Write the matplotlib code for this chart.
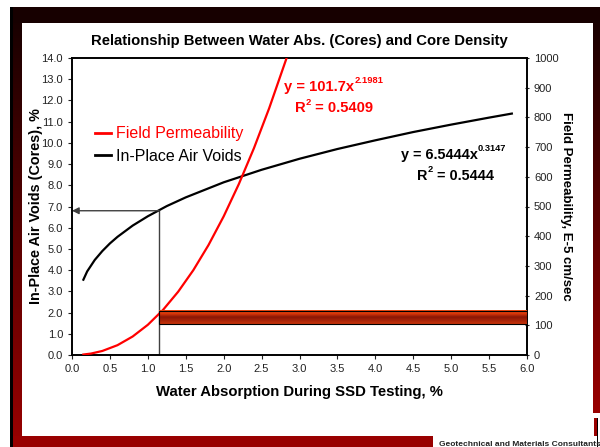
import numpy as np
import matplotlib.pyplot as plt
from matplotlib.colors import LinearSegmentedColormap

plt.rcParams['font.family'] = ['Liberation Sans', 'DejaVu Sans']

# ── data ─────────────────────────────────────────────────────────────────────
voids_x = [0.15, 0.2, 0.3, 0.4, 0.5, 0.6, 0.8, 1.0, 1.25, 1.5, 2.0, 2.5,
           3.0, 3.5, 4.0, 4.5, 5.0, 5.5, 5.8]
voids_y = [3.55, 3.94, 4.48, 4.90, 5.26, 5.57, 6.10, 6.54, 7.02, 7.43, 8.14,
           8.73, 9.25, 9.71, 10.12, 10.51, 10.86, 11.19, 11.38]

perm_x = [0.15, 0.25, 0.4, 0.6, 0.8, 1.0, 1.2, 1.4, 1.6, 1.8, 2.0, 2.2,
          2.4, 2.6, 2.83]
perm_y = [1.6, 4.8, 13.6, 33.1, 62.3, 101.7, 151.8, 213.1, 285.7, 370.2,
          466.7, 575.5, 696.8, 830.8, 1000]

guide_x = 1.15        # water absorption read-off
guide_y = 6.8         # resulting air voids
band_x = [1.15, 6.0]  # permeability band
band_y = [104, 148]

xticks = np.arange(0, 6.01, 0.5)
yticks = np.arange(0, 14.01, 1.0)
y2ticks = np.arange(0, 1001, 100)

W, H = 600, 447
fig = plt.figure(figsize=(W / 100, H / 100), dpi=100)

# ── frame around the slide ───────────────────────────────────────────────────
bg = fig.add_axes([0, 0, 1, 1])
bg.set_xlim(0, W); bg.set_ylim(H, 0); bg.axis('off')
grad = LinearSegmentedColormap.from_list('fr', ['#150000', '#990000'])
g = np.linspace(0, 1, 200).reshape(-1, 1)
bg.add_patch(plt.Rectangle((10, 7), 590, 16, color='#170000', lw=0))
bg.imshow(g, cmap=grad, extent=(13, 22, 447, 7), aspect='auto')
bg.add_patch(plt.Rectangle((10, 7), 3, 440, color='black', lw=0))
bg.imshow(g, cmap=grad, extent=(593, 600, 413, 7), aspect='auto')
bg.add_patch(plt.Rectangle((13, 436), 420, 11, color='#990000', lw=0))
bg.add_patch(plt.Rectangle((594, 418), 3, 18, color='#990000', lw=0))
bg.add_patch(plt.Rectangle((597, 418), 1, 29, color='black', lw=0))
bg.text(439, 440.5, 'Geotechnical and Materials Consultants', fontsize=6,
        fontweight='bold', va='top', ha='left', color='#222222')
bg.set_xlim(0, W); bg.set_ylim(H, 0)

# ── main chart ───────────────────────────────────────────────────────────────
ax = fig.add_axes([72 / W, 1 - 355 / H, 455 / W, 297 / H])
ax2 = ax.twinx()

ax.plot(voids_x, voids_y, color='black', lw=1.6, zorder=3)
ax2.plot(perm_x, perm_y, color='red', lw=1.6, zorder=3)

ax.plot([guide_x, guide_x], [0, guide_y], color='#404040', lw=1, zorder=2)
ax.annotate('', xy=(0.0, guide_y), xytext=(guide_x, guide_y),
            arrowprops=dict(arrowstyle='-|>', color='#404040', lw=1,
                            mutation_scale=10, shrinkA=0, shrinkB=0))

bmap = LinearSegmentedColormap.from_list(
    'band', ['#f04a12', '#d8380a', '#8a1605', '#a82408', '#c8340a'])
ax2.imshow(np.linspace(0, 1, 50).reshape(-1, 1), cmap=bmap, aspect='auto',
           extent=(band_x[0], band_x[1], band_y[0], band_y[1]), zorder=4)
ax2.add_patch(plt.Rectangle((band_x[0], band_y[0]), band_x[1] - band_x[0],
                            band_y[1] - band_y[0], fill=False, ec='black',
                            lw=0.8, zorder=5))

ax.set_xlim(0, 6)
ax.set_ylim(0, 14)
ax2.set_ylim(0, 1000)
ax.set_xticks(xticks)
ax.set_xticklabels([f'{v:.1f}' for v in xticks])
ax.set_yticks(yticks)
ax.set_yticklabels([f'{v:.1f}' for v in yticks])
ax2.set_yticks(y2ticks)
ax.tick_params(labelsize=8, length=3, direction='out', colors='#222222')
ax2.tick_params(labelsize=8, length=3, direction='inout', colors='#222222')
for a in (ax, ax2):
    for s in a.spines.values():
        s.set_linewidth(1.2)

ax.set_title('Relationship Between Water Abs. (Cores) and Core Density',
             fontsize=10.7, fontweight='bold', pad=9)
ax.set_xlabel('Water Absorption During SSD Testing, %', fontsize=10.7,
              fontweight='bold', labelpad=8)
ax.set_ylabel('In-Place Air Voids (Cores), %', fontsize=10.4,
              fontweight='bold', labelpad=-1.5)
ax2.set_ylabel('Field Permeability, E-5 cm/sec', fontsize=9.5,
               fontweight='bold', rotation=270, labelpad=10)

# legend
h1, = ax.plot([], [], color='red', lw=2)
h2, = ax.plot([], [], color='black', lw=2)
ax.legend([h1, h2], ['Field Permeability', 'In-Place Air Voids'],
          loc='upper left', bbox_to_anchor=(0.02, 0.818), frameon=False,
          fontsize=11.5, handlelength=1.0, handletextpad=0.3,
          labelspacing=0.45, labelcolor=['red', 'black'])


# trendline equations: base text with small superscripts
def equation(x, y, base, sup, color, size):
    t = ax.text(x, y, base, color=color, fontsize=size, fontweight='bold',
                ha='left', va='center')
    ax.annotate(sup, xy=(1, 0.95), xycoords=t, color=color,
                fontsize=size * 0.64, fontweight='bold', ha='left', va='center')


def r_squared(x, y, value, color, size):
    t = ax.text(x, y, 'R', color=color, fontsize=size, fontweight='bold',
                ha='left', va='center')
    ax.annotate('2', xy=(1, 0.95), xycoords=t, color=color,
                fontsize=size * 0.64, fontweight='bold', ha='left', va='center')
    ax.annotate(' = ' + value, xy=(1, 0.5), xycoords=t, xytext=(size * 0.36, 0),
                textcoords='offset points', color=color, fontsize=size,
                fontweight='bold', ha='left', va='center')


equation(2.80, 12.62, 'y = 101.7x', '2.1981', 'red', 10.6)
r_squared(2.94, 11.62, '0.5409', 'red', 10.6)
equation(4.34, 9.43, 'y = 6.5444x', '0.3147', 'black', 10.4)
r_squared(4.55, 8.43, '0.5444', 'black', 10.4)

fig.savefig('out.png', dpi=100)
